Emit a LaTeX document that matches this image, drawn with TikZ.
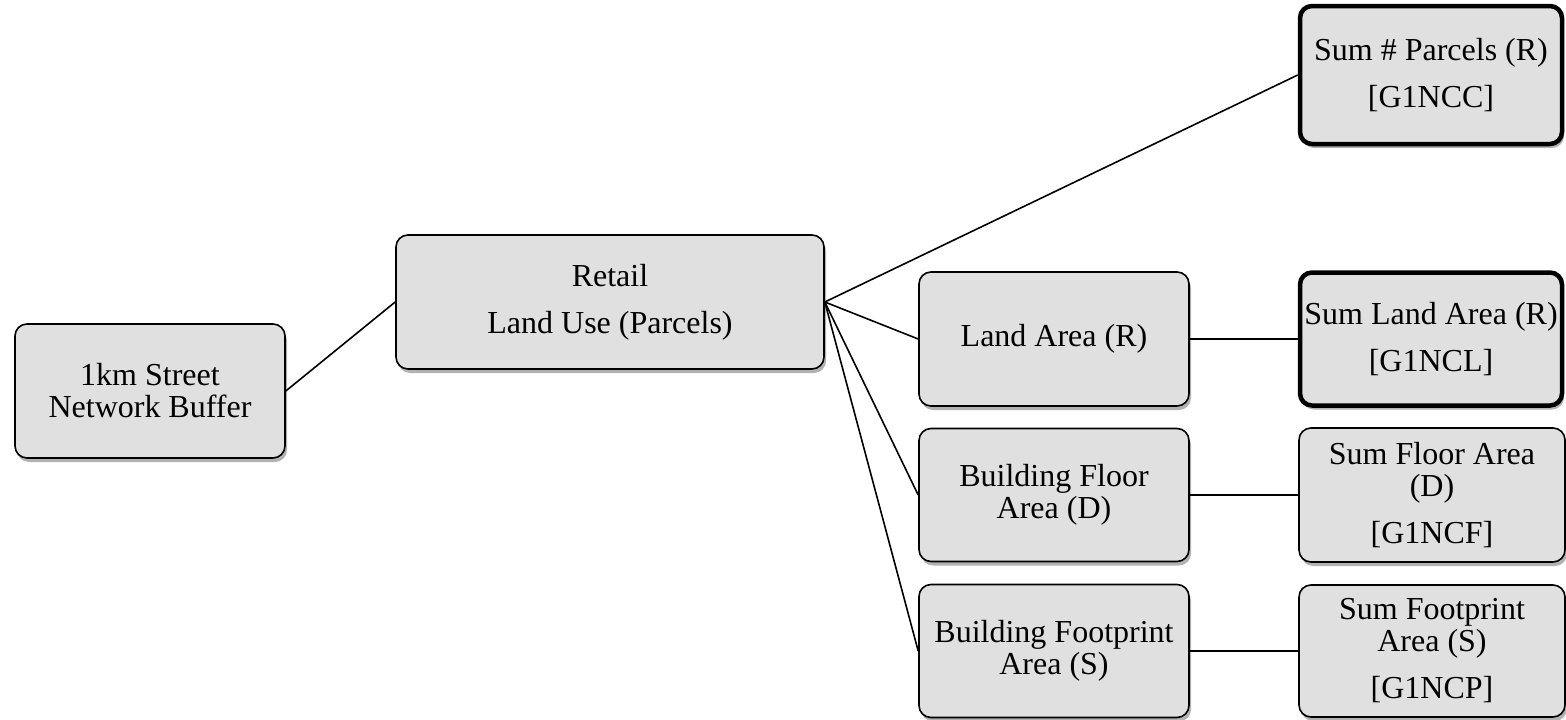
\documentclass[tikz,border=0pt]{standalone}
\usepackage{fontspec}
\setmainfont{Liberation Serif}
\usetikzlibrary{shadows}

\begin{document}
\begin{tikzpicture}[x = 1pt, y = -1pt, line width = 1.6pt,
	box/.style = {draw, rounded corners = 12pt, fill = gray!24, align = center,
		inner sep = 0pt, minimum width = 270pt, minimum height = 134pt,
		font = \fontsize{32}{32}\selectfont,
		drop shadow = {shadow xshift = 2pt, shadow yshift = -4pt, opacity = 0.3, fill = black}},
	sumbox/.style = {box, minimum width = 266pt},
	keybox/.style = {box, line width = 4.5pt, minimum width = 262pt}]

	% Frame
	
	\useasboundingbox (0, 0) rectangle (1566, 720);
	
	% Buffer and land use
	
	\node [box] (buffer) at (150, 391) {1km Street\\Network Buffer};
	\node [box, minimum width = 428pt] (retail) at (610, 302) {Retail\\[15pt]Land Use (Parcels)};
	
	% Measures
	
	\node [box] (landarea) at (1054, 339) {Land Area (R)};
	\node [box, minimum height = 133pt] (floorarea) at (1054, 495) {Building Floor\\Area (D)};
	\node [box, minimum height = 133pt] (footarea) at (1054, 651) {Building Footprint\\Area (S)};
	
	% Sums
	
	\node [keybox, minimum height = 138pt] (sumparcels) at (1431, 75) {Sum \# Parcels (R)\\[15pt][G1NCC]};
	\node [keybox, minimum height = 133pt] (sumland) at (1431, 339) {Sum Land Area (R)\\[15pt][G1NCL]};
	\node [sumbox] (sumfloor) at (1432, 495) {Sum Floor Area\\(D)\\[15pt][G1NCF]};
	\node [sumbox, minimum height = 132pt] (sumfoot) at (1432, 651) {Sum Footprint\\Area (S)\\[15pt][G1NCP]};
	
	% Connectors
	
	\draw (buffer.east) -- (retail.west);
	\draw (retail.east) -- (sumparcels.west);
	\draw (retail.east) -- (landarea.west);
	\draw (retail.east) -- (floorarea.west);
	\draw (retail.east) -- (footarea.west);
	\draw (landarea.east) -- (sumland.west);
	\draw (floorarea.east) -- (sumfloor.west);
	\draw (footarea.east) -- (sumfoot.west);

\end{tikzpicture}
\end{document}
